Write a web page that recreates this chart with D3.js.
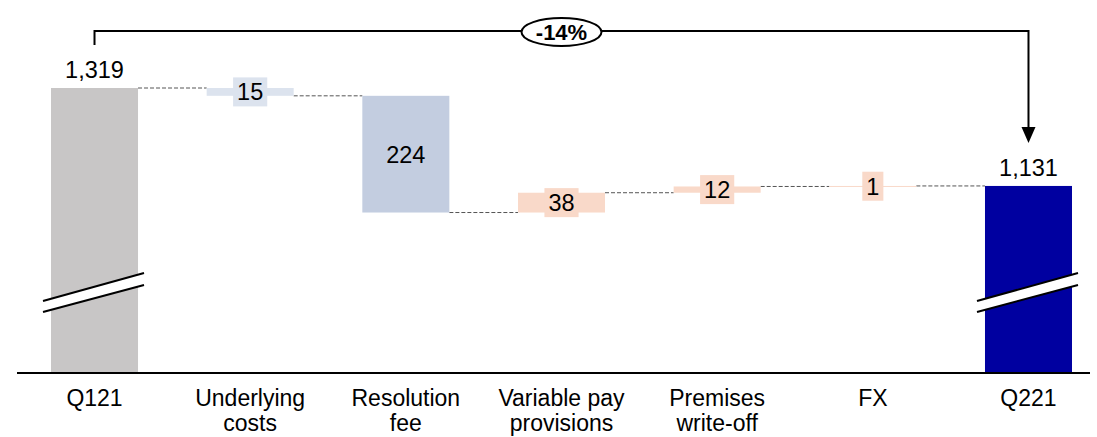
<!DOCTYPE html>
<html>
<head>
<meta charset="utf-8">
<script src="https://cdn.jsdelivr.net/npm/d3@7"></script>
<style>
  html, body { margin: 0; padding: 0; background: #fff; }
  svg { display: block; font-family: "Liberation Sans", Arial, sans-serif; }
</style>
</head>
<body>
<svg id="chart" width="1097" height="437"></svg>
<script>
// ---- data ----
const categories = ["Q121", "Underlying\ncosts", "Resolution\nfee", "Variable pay\nprovisions", "Premises\nwrite-off", "FX", "Q221"];
const values = [1319, -15, -224, 38, 12, 1, 1131];
const kinds = ["total", "delta", "delta", "delta", "delta", "delta", "total"];
const valueLabels = ["1,319", "15", "224", "38", "12", "1", "1,131"];
const changeLabel = "-14%";
const axisFloor = 772;

// ---- layout ----
const svg = d3.select("#chart");
const baseY = 373;
const x = d3.scaleBand().domain(d3.range(categories.length)).range([51, 1072]).paddingInner(0.441).paddingOuter(0);
const y = d3.scaleLinear().domain([axisFloor, 1319]).range([baseY, 88]);

const fills = ["#C8C6C6", "#DCE3EE", "#C3CDE0", "#F9D9C9", "#F9D9C9", "#F9D9C9", "#0000A0"];

// compute bar spans
let running = 0;
const bars = values.map((v, i) => {
  let lo, hi, end;
  if (kinds[i] === "total") { lo = axisFloor; hi = v; end = v; running = v; }
  else { const start = running; end = start + v; lo = Math.min(start, end); hi = Math.max(start, end); running = end; }
  return { i, lo, hi, end };
});

const bw = x.bandwidth();

// connectors
for (let i = 0; i < bars.length - 1; i++) {
  const lvl = bars[i].end;
  svg.append("line")
    .attr("x1", x(i) + bw).attr("x2", x(i + 1))
    .attr("y1", y(lvl)).attr("y2", y(lvl))
    .attr("stroke", "#555").attr("stroke-width", 1).attr("stroke-dasharray", "4,2");
}

// bars
svg.selectAll("rect.bar").data(bars).enter().append("rect")
  .attr("class", "bar")
  .attr("x", d => x(d.i)).attr("width", bw)
  .attr("y", d => y(d.hi)).attr("height", d => Math.max(1, y(d.lo) - y(d.hi)))
  .attr("fill", d => fills[d.i]);

// break marks on total bars
bars.filter(d => kinds[d.i] === "total").forEach(d => {
  const x0 = x(d.i) - 8, x1 = x(d.i) + bw + 6;
  const g = svg.append("g");
  g.append("path")
    .attr("d", `M${x0},${301} L${x1},${273} L${x1},${285} L${x0},${312} Z`)
    .attr("fill", "#fff");
  g.append("line").attr("x1", x0).attr("y1", 301).attr("x2", x1).attr("y2", 273)
    .attr("stroke", "#000").attr("stroke-width", 2);
  g.append("line").attr("x1", x0).attr("y1", 312).attr("x2", x1).attr("y2", 285)
    .attr("stroke", "#000").attr("stroke-width", 2);
});

// baseline
svg.append("line").attr("x1", 17).attr("x2", 1090).attr("y1", baseY).attr("y2", baseY)
  .attr("stroke", "#000").attr("stroke-width", 2);

// value labels
bars.forEach(d => {
  const cx = x(d.i) + bw / 2;
  if (kinds[d.i] === "total") {
    svg.append("text").attr("x", cx).attr("y", y(d.hi) - 10)
      .attr("text-anchor", "middle").attr("font-size", 23.5).attr("fill", "#000")
      .text(valueLabels[d.i]);
  } else {
    const cy = (y(d.hi) + y(d.lo)) / 2;
    const t = svg.append("text").attr("x", cx).attr("y", cy).attr("dy", "0.36em")
      .attr("text-anchor", "middle").attr("font-size", 23.5).attr("fill", "#000")
      .text(valueLabels[d.i]);
    const hgt = y(d.lo) - y(d.hi);
    if (hgt < 30) {
      const bb = t.node().getBBox();
      svg.insert("rect", () => t.node())
        .attr("x", bb.x - 4).attr("width", bb.width + 8)
        .attr("y", cy - 14.5).attr("height", 29)
        .attr("fill", fills[d.i]);
    }
  }
});

// category labels
categories.forEach((c, i) => {
  const t = svg.append("text").attr("x", x(i) + bw / 2).attr("y", 406)
    .attr("text-anchor", "middle").attr("font-size", 23).attr("fill", "#000");
  c.split("\n").forEach((line, k) => {
    t.append("tspan").attr("x", x(i) + bw / 2).attr("dy", k === 0 ? 0 : 25).text(line);
  });
});

// bracket with change label
const xa = x(0) + bw / 2, xb = x(categories.length - 1) + bw / 2;
const yTop = 31;
svg.append("path")
  .attr("d", `M${xa},45 L${xa},${yTop} L${xb},${yTop} L${xb},127`)
  .attr("fill", "none").attr("stroke", "#000").attr("stroke-width", 2);
svg.append("path")
  .attr("d", `M${xb - 7},127 L${xb + 7},127 L${xb},143 Z`).attr("fill", "#000");
const ex = (xa + xb) / 2;
svg.append("ellipse").attr("cx", ex).attr("cy", yTop + 1).attr("rx", 40).attr("ry", 14)
  .attr("fill", "#fff").attr("stroke", "#000").attr("stroke-width", 2);
svg.append("text").attr("x", ex).attr("y", yTop + 1).attr("dy", "0.36em")
  .attr("text-anchor", "middle").attr("font-size", 22).attr("font-weight", "bold")
  .text(changeLabel);
</script>
</body>
</html>
